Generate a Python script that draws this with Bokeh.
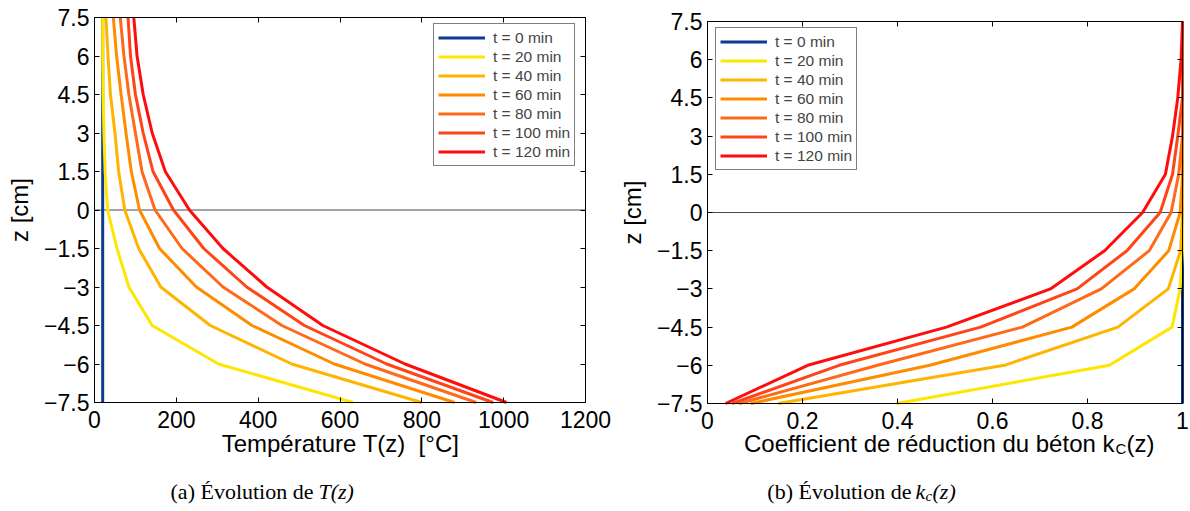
from bokeh.plotting import figure
from bokeh.models import Range1d, LinearAxis, FixedTicker, CustomLabelingPolicy
from bokeh.core.properties import value
from bokeh.layouts import row
from bokeh.embed import file_html
from bokeh.resources import INLINE

# ---------------- data ----------------
z_cm = [-7.5, -6, -4.5, -3, -1.5, 0, 1.5, 3, 4.5, 6, 7.5]

series_labels = ["t = 0 min", "t = 20 min", "t = 40 min", "t = 60 min",
                 "t = 80 min", "t = 100 min", "t = 120 min"]
series_colors = ["#0B3C91", "#FFE600", "#FFB400", "#FF8C00",
                 "#FF6A1A", "#FF4418", "#FF0D0D"]

# Temperature T(z) [°C]
T_0 = [20, 20, 20, 20, 20, 20, 20, 20, 20, 20, 20]
T_20 = [632, 303, 141, 84, 55, 32, 26, 23, 21, 20, 20]
T_40 = [800, 482, 283, 162, 108, 74, 59, 50, 39, 33, 28]
T_60 = [880, 586, 385, 249, 159, 110, 90, 77, 65, 54, 46]
T_80 = [933, 661, 458, 314, 214, 148, 116, 100, 84, 72, 63]
T_100 = [974, 714, 513, 372, 267, 193, 143, 119, 100, 88, 82]
T_120 = [1007, 759, 558, 421, 314, 232, 173, 141, 119, 104, 96]

# Concrete reduction coefficient k_c(z)
k_0 = [1, 1, 1, 1, 1, 1, 1, 1, 1, 1, 1]
k_20 = [0.398, 0.846, 0.978, 0.995, 1, 1, 1, 1, 1, 1, 1]
k_40 = [0.149, 0.625, 0.864, 0.970, 0.996, 1, 1, 1, 1, 1, 1]
k_60 = [0.091, 0.468, 0.767, 0.898, 0.971, 0.995, 1, 1, 1, 1, 1]
k_80 = [0.067, 0.358, 0.663, 0.829, 0.930, 0.976, 0.992, 1, 1, 1, 1]
k_100 = [0.052, 0.277, 0.575, 0.778, 0.883, 0.953, 0.979, 0.990, 1, 1, 1]
k_120 = [0.038, 0.211, 0.503, 0.722, 0.836, 0.916, 0.964, 0.979, 0.990, 0.997, 1]

T_series = [T_0, T_20, T_40, T_60, T_80, T_100, T_120]
k_series = [k_0, k_20, k_40, k_60, k_80, k_100, k_120]

T_ticks = [0, 200, 400, 600, 800, 1000, 1200]
k_ticks = [0, 0.2, 0.4, 0.6, 0.8, 1]
k_tick_labels = ["0", "0.2", "0.4", "0.6", "0.8", "1"]
z_ticks = [-7.5, -6, -4.5, -3, -1.5, 0, 1.5, 3, 4.5, 6, 7.5]
z_tick_labels = ["\u22127.5", "\u22126", "\u22124.5", "\u22123", "\u22121.5", "0",
                 "1.5", "3", "4.5", "6", "7.5"]

SANS = "Liberation Sans"
SERIF = "Liberation Serif"
TICK_FS = "23px"
LABEL_FS = "24px"
CAP_FS = "22px"
Z_MIN, Z_MAX = -7.5, 7.5
TOTAL_H = 510
HIDE = "for (const i of indices) indices.unset(i)"


def style_axis(ax):
    ax.major_tick_in = 5
    ax.major_tick_out = 0
    ax.minor_tick_line_color = None
    ax.axis_line_color = "black"
    ax.axis_line_width = 1
    ax.major_tick_line_color = "black"
    ax.major_label_text_font = SANS
    ax.major_label_text_font_size = TICK_FS
    ax.major_label_text_color = "black"
    ax.axis_label_text_font = SANS
    ax.axis_label_text_font_size = LABEL_FS
    ax.axis_label_text_font_style = "normal"
    ax.axis_label_text_color = "black"


class Panel:
    """One sub-figure.  The whole canvas is the frame; the axes are drawn at
    fixed data locations so that the plot box sits where the reference has it."""

    def __init__(self, xs_list, x_end, x_ticks, x_labels,
                 fig_left, fig_right, box_left, box_right, box_top, box_bottom,
                 legend_left, legend_top):
        self.fig_left = fig_left
        self.box_left = box_left
        self.box_top = box_top
        self.sx = x_end / (box_right - box_left)           # data per px (x)
        self.sy = (Z_MAX - Z_MIN) / (box_bottom - box_top)  # data per px (y)
        x0 = -(box_left - fig_left) * self.sx
        x1 = x_end + (fig_right - box_right) * self.sx
        y1 = Z_MAX + box_top * self.sy
        y0 = Z_MAX - (TOTAL_H - box_top) * self.sy

        p = figure(frame_width=fig_right - fig_left, frame_height=TOTAL_H,
                   x_range=Range1d(x0, x1), y_range=Range1d(y0, y1),
                   output_backend="svg", toolbar_location=None,
                   x_axis_location=None, y_axis_location=None,
                   min_border=0, min_border_left=0, min_border_right=0,
                   min_border_top=0, min_border_bottom=0,
                   background_fill_color="white", border_fill_color="white",
                   outline_line_color=None)
        p.grid.visible = False

        bottom = LinearAxis(ticker=FixedTicker(ticks=x_ticks), fixed_location=Z_MIN,
                            bounds=(0, x_end), major_label_standoff=8)
        if x_labels is not None:
            bottom.major_label_overrides = dict(zip(x_ticks, x_labels))
        left = LinearAxis(ticker=FixedTicker(ticks=z_ticks), fixed_location=0,
                          bounds=(Z_MIN, Z_MAX), major_label_standoff=5,
                          axis_label="z [cm]", axis_label_standoff=8,
                          major_label_overrides=dict(zip(z_ticks, z_tick_labels)))
        top = LinearAxis(ticker=FixedTicker(ticks=x_ticks), fixed_location=Z_MAX,
                         bounds=(0, x_end),
                         major_label_policy=CustomLabelingPolicy(code=HIDE))
        right = LinearAxis(ticker=FixedTicker(ticks=z_ticks), fixed_location=x_end,
                           bounds=(Z_MIN, Z_MAX),
                           major_label_policy=CustomLabelingPolicy(code=HIDE))
        for ax in (bottom, left, top, right):
            style_axis(ax)
        p.add_layout(bottom, "below")
        p.add_layout(left, "left")
        p.add_layout(top, "above")
        p.add_layout(right, "right")

        # thin z = 0 reference line across the plot box
        p.segment(x0=[0], y0=[0], x1=[x_end], y1=[0], line_color="#4A4A4A", line_width=1)

        for xs, lab, col in zip(xs_list, series_labels, series_colors):
            p.line(xs, z_cm, line_color=col, line_width=3, legend_label=lab)

        lg = p.legend[0]
        lg.location = (legend_left - fig_left, TOTAL_H - (legend_top + 141))
        lg.border_line_color = "black"
        lg.border_line_width = 1
        lg.background_fill_color = "white"
        lg.background_fill_alpha = 1
        lg.label_text_font = SANS
        lg.label_text_font_size = "15.5px"
        lg.glyph_width = 47
        lg.glyph_height = 19
        lg.label_height = 19
        lg.spacing = 0
        lg.padding = 4
        lg.margin = 0
        lg.label_standoff = 8
        self.p = p

    def put(self, px, py, text, font, size, style="normal", align="left"):
        # px, py: page pixel position of the text anchor (baseline)
        x = (px - self.box_left) * self.sx
        y = Z_MAX - (py - self.box_top) * self.sy
        self.p.text(x=[x], y=[y], text=[text], text_font=value(font),
                    text_font_size=size, text_font_style=style,
                    text_align=align, text_baseline="alphabetic",
                    text_color="black")


left_panel = Panel(T_series, 1200, T_ticks, None, 0, 615, 94, 585, 17, 402, 433, 25)
right_panel = Panel(k_series, 1, k_ticks, k_tick_labels, 615, 1190, 707, 1182, 21, 403, 715, 29)

# x-axis titles
AX_Y = 443
left_panel.put(340, AX_Y, "Température T(z)\u00a0 [°C]", SANS, LABEL_FS, align="center")
right_panel.put(1114, AX_Y, "Coefficient de réduction du béton k", SANS, LABEL_FS, align="right")
right_panel.put(1115, AX_Y + 5, "C", SANS, "15px")
right_panel.put(1126, AX_Y, "(z)", SANS, LABEL_FS)

# sub-figure captions
CAP_Y = 491
left_panel.put(313, CAP_Y, "(a) Évolution de", SERIF, CAP_FS, align="right")
left_panel.put(318, CAP_Y, "T(z)", SERIF, CAP_FS, style="italic")
right_panel.put(911, CAP_Y, "(b) Évolution de", SERIF, CAP_FS, align="right")
right_panel.put(915, CAP_Y, "k", SERIF, CAP_FS, style="italic")
right_panel.put(925, CAP_Y + 4, "c", SERIF, "15px", style="italic")
right_panel.put(932, CAP_Y, "(z)", SERIF, CAP_FS, style="italic")

layout = row(left_panel.p, right_panel.p)
open("out.html", "w").write(file_html(layout, INLINE))
